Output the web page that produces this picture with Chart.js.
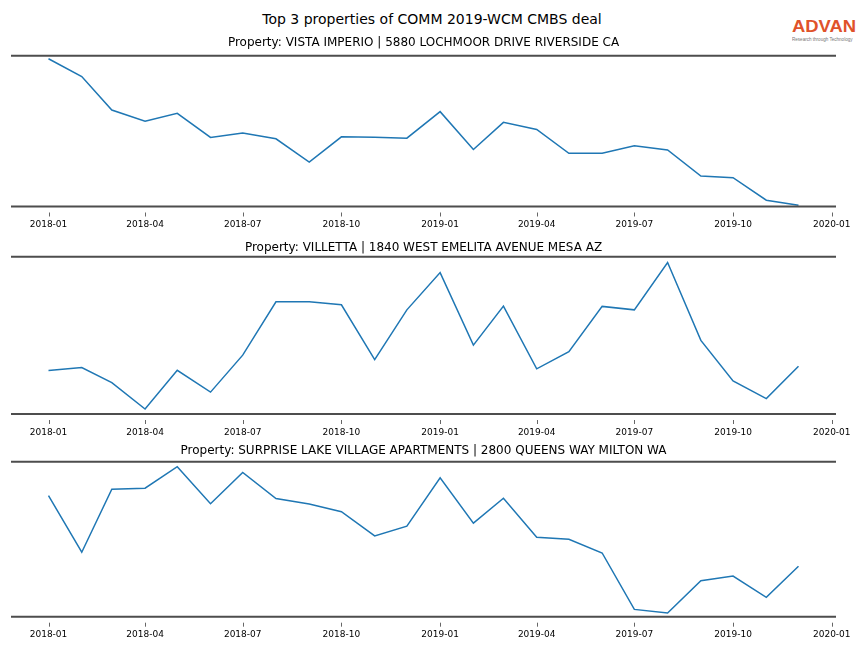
<!DOCTYPE html>
<html>
<head>
<meta charset="utf-8">
<script src="https://cdn.jsdelivr.net/npm/chart.js@4.4.1/dist/chart.umd.min.js"></script>
<style>
    body { margin: 0; background: #fff; width: 864px; height: 648px; position: relative; overflow: hidden; font-family: "DejaVu Sans", sans-serif; }
    #title { position: absolute; top: 11px; left: 0; width: 864px; text-align: center; font-size: 14px; color: #000; }
    #logo { position: absolute; left: 792px; top: 19px; width: 70px; }
    #logo .brand { font-family: "Liberation Sans", sans-serif; font-size: 16px; font-weight: bold; color: #e0522a; transform: scaleX(1.15); transform-origin: left top; line-height: 16px; }
    #logo .tag { font-family: "Liberation Sans", sans-serif; font-size: 8px; color: #777; transform: scale(0.57); transform-origin: left top; white-space: nowrap; margin-top: 2px; }
    canvas { position: absolute; left: 0; }
</style>
</head>
<body>
<div id="title">Top 3 properties of COMM 2019-WCM CMBS deal</div>
<div id="logo"><div class="brand">ADVAN</div><div class="tag">Research through Technology</div></div>
<canvas id="chart1" width="864" height="203" style="top:31px"></canvas>
<canvas id="chart2" width="864" height="204" style="top:238px"></canvas>
<canvas id="chart3" width="864" height="210" style="top:440px"></canvas>
<script>
// --- Données (indice relatif) ---
const months = [
    '2018-01', '2018-02', '2018-03', '2018-04', '2018-05', '2018-06',
    '2018-07', '2018-08', '2018-09', '2018-10', '2018-11', '2018-12',
    '2019-01', '2019-02', '2019-03', '2019-04', '2019-05', '2019-06',
    '2019-07', '2019-08', '2019-09', '2019-10', '2019-11', '2019-12'
];
const tickLabels = ['2018-01', '2018-04', '2018-07', '2018-10', '2019-01', '2019-04', '2019-07', '2019-10', '2020-01'];

const vistaImperio = [98.0, 86.2, 64.0, 56.5, 61.8, 45.8, 48.7, 44.9, 29.5, 46.2, 46.0, 45.3,
                      62.9, 37.8, 55.8, 51.1, 35.3, 35.3, 40.2, 37.5, 20.2, 19.1, 4.2, 0.9];
const villetta = [27.6, 29.5, 19.9, 3.2, 27.8, 13.9, 37.4, 71.3, 71.3, 69.4, 34.6, 66.2,
                  89.9, 43.8, 68.6, 28.7, 39.6, 68.4, 66.2, 96.3, 46.8, 21.0, 9.8, 30.3];
const surpriseLake = [78.1, 41.6, 82.3, 82.9, 96.8, 72.9, 93.1, 76.2, 72.7, 67.7, 52.1, 58.4,
                      89.6, 60.4, 76.4, 51.3, 50.0, 41.1, 4.7, 2.4, 23.2, 26.2, 12.5, 32.5];

const panelTitles = [
    'Property: VISTA IMPERIO | 5880 LOCHMOOR DRIVE RIVERSIDE CA',
    'Property: VILLETTA | 1840 WEST EMELITA AVENUE MESA AZ',
    'Property: SURPRISE LAKE VILLAGE APARTMENTS | 2800 QUEENS WAY MILTON WA'
];

// --- Utilitaires ---
const dayOffset = (ym) => {
    const [y, m] = ym.split('-').map(Number);
    return (Date.UTC(y, m - 1, 1) - Date.UTC(2018, 0, 1)) / 86400000;
};

const firstDay = dayOffset(months[0]);
const lastDay = dayOffset(months[months.length - 1]);
const margin = (lastDay - firstDay) * 0.05;
const tickMap = new Map(tickLabels.map(l => [dayOffset(l), l]));

// cadre haut/bas + petites graduations détachées sous l'axe
const spinesPlugin = {
    id: 'spines',
    afterDraw(chart) {
        const { ctx, chartArea: a } = chart;
        const xScale = chart.scales.x;
        ctx.save();
        ctx.strokeStyle = '#4d4d4d';
        ctx.lineWidth = 2;
        ctx.beginPath();
        ctx.moveTo(a.left, a.top);
        ctx.lineTo(a.right, a.top);
        ctx.moveTo(a.left, a.bottom);
        ctx.lineTo(a.right, a.bottom);
        ctx.stroke();

        ctx.strokeStyle = '#666';
        ctx.lineWidth = 1;
        ctx.beginPath();
        xScale.ticks.forEach(t => {
            const px = Math.round(xScale.getPixelForValue(t.value)) + 0.5;
            ctx.moveTo(px, a.bottom + 6);
            ctx.lineTo(px, a.bottom + 10);
        });
        ctx.stroke();
        ctx.restore();
    }
};

const makePanel = (canvasId, title, values, titlePad, bottomPad) => {
    return new Chart(document.getElementById(canvasId), {
        type: 'line',
        data: {
            datasets: [{
                data: months.map((m, i) => ({ x: dayOffset(m), y: values[i] })),
                borderColor: '#1f77b4',
                borderWidth: 1.5,
                pointRadius: 0,
                tension: 0,
                fill: false
            }]
        },
        options: {
            responsive: false,
            animation: false,
            events: [],
            layout: { padding: { left: 11, right: 28, top: 0, bottom: bottomPad } },
            plugins: {
                legend: { display: false },
                tooltip: { enabled: false },
                title: {
                    display: true,
                    text: title,
                    color: '#000',
                    font: { family: 'DejaVu Sans', size: 12, weight: 'normal' },
                    padding: titlePad
                }
            },
            scales: {
                x: {
                    type: 'linear',
                    min: firstDay - margin,
                    max: lastDay + margin,
                    afterBuildTicks: (scale) => {
                        scale.ticks = [...tickMap.keys()].map(v => ({ value: v }));
                    },
                    grid: {
                        display: true,
                        drawOnChartArea: false,
                        drawTicks: true,
                        tickLength: 10,
                        tickColor: 'rgba(0,0,0,0)'
                    },
                    border: { display: false },
                    ticks: {
                        autoSkip: false,
                        maxRotation: 0,
                        padding: 3,
                        color: '#000',
                        font: { family: 'DejaVu Sans', size: 9 },
                        callback: (v) => tickMap.get(v) || ''
                    }
                },
                y: { display: false, min: 0, max: 100 }
            }
        },
        plugins: [spinesPlugin]
    });
};

makePanel('chart1', panelTitles[0], vistaImperio, { top: 4.5, bottom: 5.8 }, 0.7);
makePanel('chart2', panelTitles[1], villetta, { top: 2.8, bottom: 1.5 }, 1.2);
makePanel('chart3', panelTitles[2], surpriseLake, { top: 3.8, bottom: 3.5 }, 6.5);
</script>
</body>
</html>
